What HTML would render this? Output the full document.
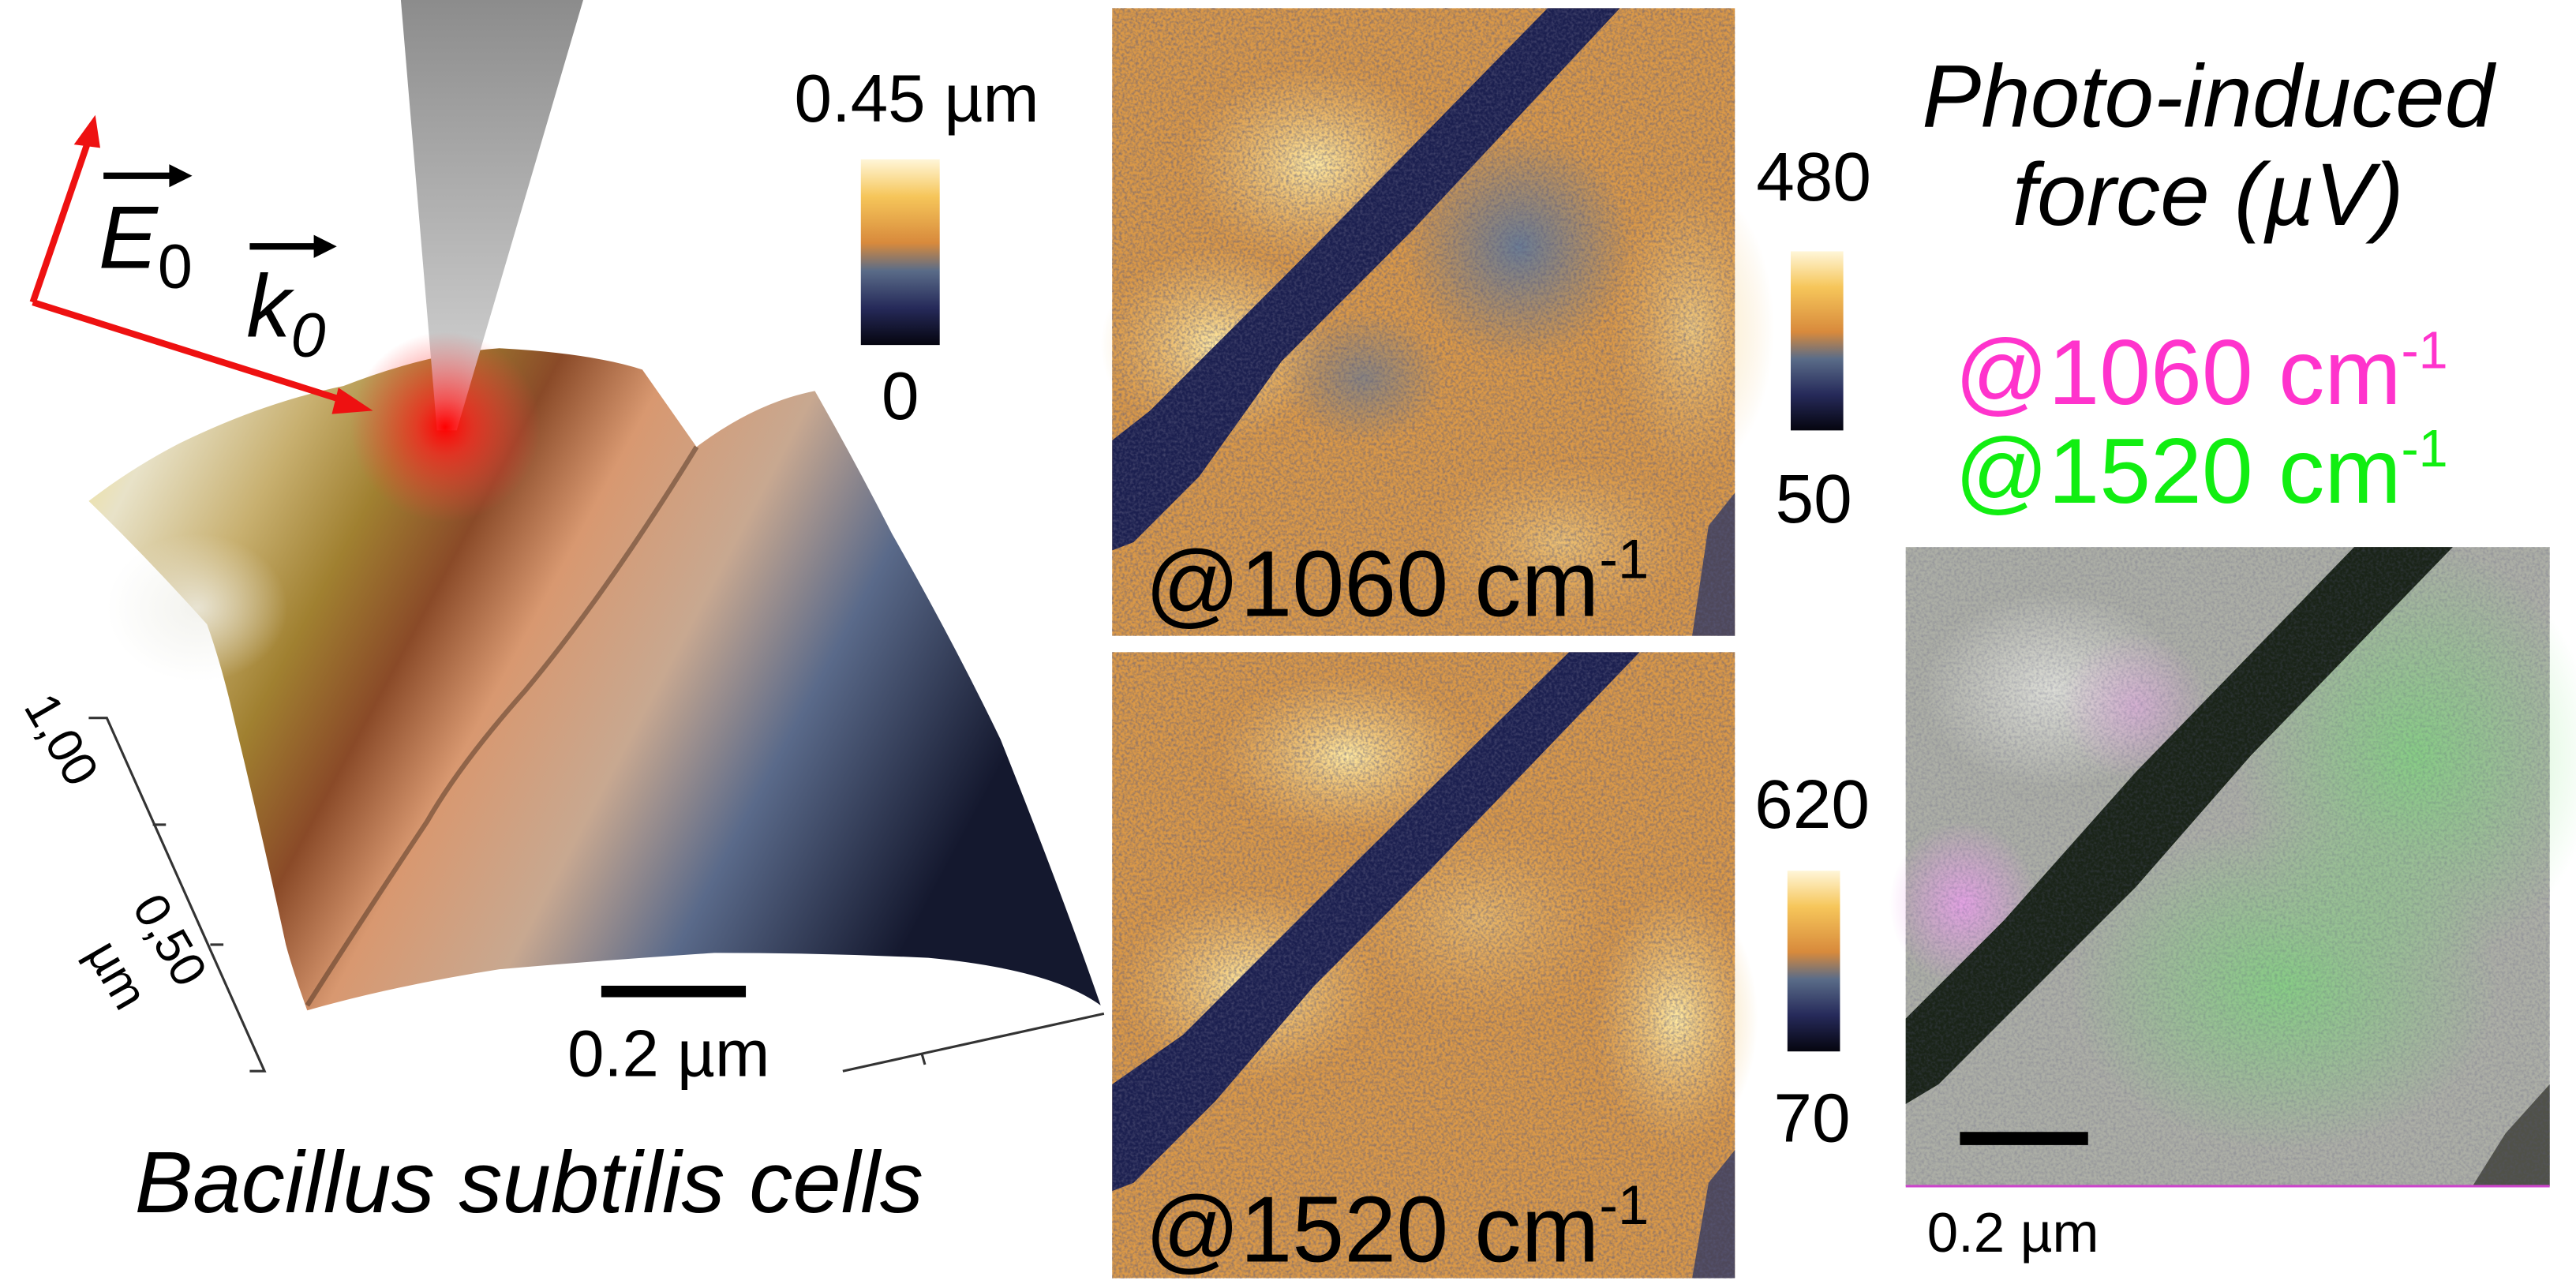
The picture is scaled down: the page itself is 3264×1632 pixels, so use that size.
<!DOCTYPE html>
<html><head><meta charset="utf-8"><style>
html,body{margin:0;padding:0;background:#fff;}
svg{display:block;}
text{font-family:"Liberation Sans",sans-serif;}
</style></head><body>
<svg width="3264" height="1632" viewBox="0 0 1568 784" xmlns="http://www.w3.org/2000/svg">
<defs>
<linearGradient id="cb" x1="0" y1="0" x2="0" y2="1">
<stop offset="0" stop-color="#fff6d8"/><stop offset="0.2" stop-color="#f6c65a"/><stop offset="0.45" stop-color="#d88a3c"/><stop offset="0.6" stop-color="#5a6c88"/><stop offset="0.8" stop-color="#262a5a"/><stop offset="1" stop-color="#05050f"/>
</linearGradient>
<linearGradient id="surf" x1="0" y1="0" x2="1" y2="0.35">
<stop offset="0" stop-color="#f4e07a"/><stop offset="0.1" stop-color="#e8e2c8"/><stop offset="0.22" stop-color="#c8b070"/><stop offset="0.32" stop-color="#a08030"/><stop offset="0.42" stop-color="#8a4a28"/><stop offset="0.52" stop-color="#d89870"/><stop offset="0.66" stop-color="#c8a890"/><stop offset="0.8" stop-color="#5a6a8a"/><stop offset="1" stop-color="#14182e"/>
</linearGradient>
<linearGradient id="tip" x1="0" y1="0" x2="0" y2="1">
<stop offset="0" stop-color="#8c8c8c"/><stop offset="1" stop-color="#d8d8d8"/>
</linearGradient>
<radialGradient id="glow"><stop offset="0" stop-color="#ff0000"/><stop offset="0.3" stop-color="#ff2020" stop-opacity="0.7"/><stop offset="1" stop-color="#ff4040" stop-opacity="0"/></radialGradient>
<radialGradient id="yel"><stop offset="0" stop-color="#ffe8a0"/><stop offset="1" stop-color="#f0c070" stop-opacity="0"/></radialGradient>
<radialGradient id="blu"><stop offset="0" stop-color="#6a7c94"/><stop offset="1" stop-color="#6a7c94" stop-opacity="0"/></radialGradient>
<radialGradient id="grn"><stop offset="0" stop-color="#70e070"/><stop offset="1" stop-color="#70e070" stop-opacity="0"/></radialGradient>
<radialGradient id="pnk"><stop offset="0" stop-color="#e8a0e8"/><stop offset="1" stop-color="#e8a0e8" stop-opacity="0"/></radialGradient>
<radialGradient id="wht"><stop offset="0" stop-color="#f0f0ea"/><stop offset="1" stop-color="#f0f0ea" stop-opacity="0"/></radialGradient>
<filter id="noise" x="0" y="0" width="100%" height="100%">
<feTurbulence type="fractalNoise" baseFrequency="0.6" numOctaves="2" seed="3"/>
<feColorMatrix type="matrix" values="0 0 0 0 0.1  0 0 0 0 0.1  0 0 0 0 0.2  0 0 0 1.2 -0.45"/>
</filter>
</defs>

<!-- 3D surface -->
<path d="M54,305 Q80,285 109,270 Q160,245 209,235 Q260,215 304,212 Q360,215 391,225 L424,272 Q460,245 496,238 Q520,280 543,325 Q580,390 609,450 Q645,540 670,612 Q640,590 565,583 Q500,580 435,580 Q360,585 304,590 Q240,600 187,615 Q178,590 174,575 Q160,510 143,440 Q135,405 126,380 Q90,340 54,305 Z" fill="url(#surf)"/>
<path d="M424,272 Q370,360 320,420 Q280,465 260,500 Q220,560 187,612" stroke="#4a3020" stroke-width="3" fill="none" opacity="0.5"/>
<ellipse cx="120" cy="370" rx="55" ry="45" fill="url(#wht)" opacity="0.8"/>
<!-- tip -->
<polygon points="244,0 355,0 278,262 266,262" fill="url(#tip)"/>
<circle cx="271" cy="260" r="58" fill="url(#glow)"/>
<!-- arrows -->
<g stroke="#ee1111" stroke-width="4" fill="#ee1111">
<line x1="20" y1="184" x2="54" y2="85"/><polygon points="58,70 45,88 61,90" stroke="none"/>
<line x1="20" y1="184" x2="210" y2="244"/><polygon points="227,250 206,236 202,252" stroke="none"/>
</g>
<line x1="63" y1="107" x2="104" y2="107" stroke="#000" stroke-width="4"/><polygon points="117,107 103,100 103,114"/>
<line x1="152" y1="150" x2="192" y2="150" stroke="#000" stroke-width="4"/><polygon points="205,150 191,143 191,157"/>
<text x="60" y="163" font-size="54" font-style="italic">E<tspan font-size="38" font-style="normal" dy="12">0</tspan></text>
<text x="150" y="205" font-size="54" font-style="italic">k<tspan font-size="38" dy="12">0</tspan></text>
<!-- height colorbar -->
<text x="558" y="74" font-size="41" text-anchor="middle">0.45 µm</text>
<rect x="524" y="97" width="48" height="113" fill="url(#cb)"/>
<text x="548" y="255" font-size="41" text-anchor="middle">0</text>
<!-- axis -->
<g stroke="#333" stroke-width="1.5" fill="none">
<polyline points="54,437 65,437 161,652 152,652"/>
<line x1="93" y1="502" x2="101" y2="502"/><line x1="128" y1="575" x2="136" y2="575"/>
<line x1="513" y1="652" x2="672" y2="617"/><line x1="561" y1="641" x2="563" y2="648"/>
</g>
<text x="0" y="0" font-size="30" transform="translate(14,430) rotate(60)">1,00</text>
<text x="0" y="0" font-size="30" transform="translate(80,552) rotate(60)">0,50</text>
<text x="0" y="0" font-size="30" transform="translate(52,580) rotate(60)">µm</text>
<rect x="366" y="600" width="88" height="7" fill="#000"/>
<text x="407" y="655" font-size="40" text-anchor="middle">0.2 µm</text>
<text x="322" y="738" font-size="53" font-style="italic" text-anchor="middle">Bacillus subtilis cells</text>

<!-- top map -->
<rect x="677" y="5" width="379" height="382" fill="#d99848"/>
<ellipse cx="740" cy="210" rx="70" ry="60" fill="url(#yel)"/>
<ellipse cx="800" cy="100" rx="80" ry="60" fill="url(#yel)"/>
<ellipse cx="925" cy="150" rx="70" ry="70" fill="url(#blu)"/>
<ellipse cx="830" cy="230" rx="50" ry="40" fill="url(#blu)" opacity="0.7"/>
<ellipse cx="1030" cy="200" rx="50" ry="90" fill="url(#yel)" opacity="0.6"/>
<ellipse cx="950" cy="330" rx="80" ry="50" fill="url(#yel)" opacity="0.5"/>
<polygon points="942,5 986,5 860,140 780,220 730,290 690,330 677,335 677,268 700,250 800,150" fill="#1c2050"/>
<polygon points="1040,320 1056,300 1056,387 1030,387" fill="#2a3460" opacity="0.8"/>
<rect x="677" y="5" width="379" height="382" filter="url(#noise)"/>
<text x="697" y="375" font-size="57">@1060 cm<tspan font-size="34" dy="-23">-1</tspan></text>
<!-- bottom map -->
<rect x="677" y="397" width="379" height="381" fill="#d99848"/>
<ellipse cx="760" cy="600" rx="80" ry="60" fill="url(#yel)"/>
<ellipse cx="820" cy="460" rx="80" ry="50" fill="url(#yel)"/>
<ellipse cx="1020" cy="620" rx="50" ry="80" fill="url(#yel)"/>
<ellipse cx="900" cy="560" rx="80" ry="60" fill="url(#yel)" opacity="0.4"/>
<polygon points="955,397 998,397 870,530 800,600 740,670 690,720 677,725 677,660 720,630 820,530" fill="#1c2050"/>
<polygon points="1040,720 1056,700 1056,778 1030,778" fill="#2a3460" opacity="0.8"/>
<rect x="677" y="397" width="379" height="381" filter="url(#noise)"/>
<text x="697" y="768" font-size="57">@1520 cm<tspan font-size="34" dy="-23">-1</tspan></text>
<!-- colorbars -->
<text x="1104" y="122" font-size="42" text-anchor="middle">480</text>
<rect x="1090" y="153" width="32" height="109" fill="url(#cb)"/>
<text x="1104" y="318" font-size="42" text-anchor="middle">50</text>
<text x="1103" y="504" font-size="42" text-anchor="middle">620</text>
<rect x="1088" y="530" width="32" height="110" fill="url(#cb)"/>
<text x="1103" y="695" font-size="42" text-anchor="middle">70</text>

<!-- right -->
<text x="1344" y="77" font-size="54" font-style="italic" text-anchor="middle">Photo-induced</text>
<text x="1344" y="137" font-size="54" font-style="italic" text-anchor="middle">force (µV)</text>
<text x="1340" y="246" font-size="56" fill="#ff33cc" text-anchor="middle">@1060 cm<tspan font-size="32" dy="-22">-1</tspan></text>
<text x="1340" y="306" font-size="56" fill="#11ee11" text-anchor="middle">@1520 cm<tspan font-size="32" dy="-22">-1</tspan></text>
<rect x="1160" y="333" width="392" height="389" fill="#acaea6"/>
<ellipse cx="1470" cy="460" rx="110" ry="130" fill="url(#grn)" opacity="0.6"/>
<ellipse cx="1390" cy="600" rx="130" ry="100" fill="url(#grn)" opacity="0.6"/>
<ellipse cx="1250" cy="420" rx="80" ry="60" fill="url(#wht)" opacity="0.7"/>
<ellipse cx="1195" cy="550" rx="45" ry="50" fill="url(#pnk)" opacity="0.9"/>
<ellipse cx="1300" cy="430" rx="45" ry="45" fill="url(#pnk)" opacity="0.5"/>
<polygon points="1433,333 1493,333 1370,460 1300,540 1240,600 1180,660 1160,672 1160,620 1220,560 1300,470" fill="#1a2418"/>
<polygon points="1525,690 1552,660 1552,722 1505,722" fill="#2a2a22" opacity="0.7"/>
<rect x="1160" y="333" width="392" height="389" filter="url(#noise)" opacity="0.5"/>
<line x1="1160" y1="722" x2="1552" y2="722" stroke="#cc44cc" stroke-width="1.5"/>
<rect x="1193" y="689" width="78" height="8" fill="#000"/>
<text x="1173" y="762" font-size="34">0.2 µm</text>
</svg>
</body></html>
